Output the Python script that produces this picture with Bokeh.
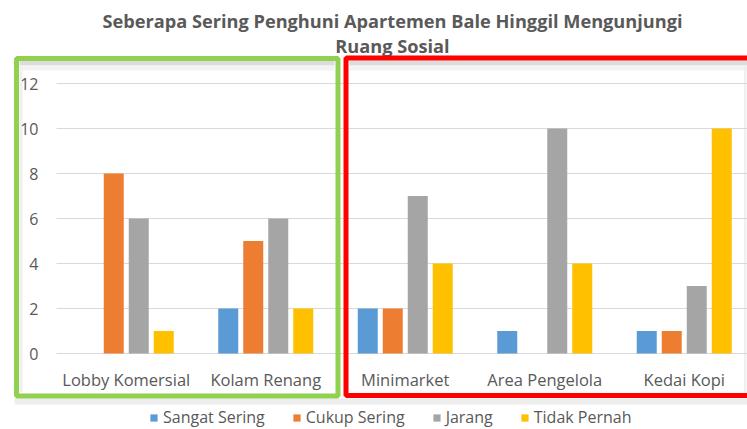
from bokeh.plotting import figure
from bokeh.models import (ColumnDataSource, Range1d, FixedTicker, Legend, LegendItem,
                          BoxAnnotation, Label, LinearAxis)
from bokeh.embed import file_html
from bokeh.resources import INLINE

# ---- data ----
categories = ["Lobby Komersial", "Kolam Renang", "Minimarket", "Area Pengelola", "Kedai Kopi"]
series_names = ["Sangat Sering", "Cukup Sering", "Jarang", "Tidak Pernah"]
sangat_sering = [0, 2, 2, 1, 1]
cukup_sering = [8, 5, 2, 0, 1]
jarang = [6, 6, 7, 10, 3]
tidak_pernah = [1, 2, 4, 4, 10]
y_ticks = [0, 2, 4, 6, 8, 10, 12]
title_line1 = "Seberapa Sering Penghuni Apartemen Bale Hinggil Mengunjungi"
title_line2 = "Ruang Sosial"

colors = ["#5B9BD5", "#ED7D31", "#A5A5A5", "#FFC000"]
values = [sangat_sering, cukup_sering, jarang, tidak_pernah]

# ---- layout (pixels in the picture) ----
W, H = 747, 429
OFF = 0
AX_X0 = 56               # x of category axis start
CAT_PX = 139.5           # width of one category in px
AX_Y0 = 353              # y of value 0
PX_PER_UNIT = 22.5       # px per value unit


def px_to_x(px):
    return (px - AX_X0) / CAT_PX


def px_to_y(py):
    return (AX_Y0 - py) / PX_PER_UNIT


FONT = "Open Sans"
GREY = "#595959"

p = figure(width=W, height=H, output_backend="svg", toolbar_location=None,
           x_range=Range1d(px_to_x(OFF), px_to_x(OFF + W)),
           y_range=Range1d(px_to_y(OFF + H), px_to_y(OFF)),
           x_axis_location=None, y_axis_location=None,
           min_border=0, min_border_left=0, min_border_right=0,
           min_border_top=0, min_border_bottom=0)
p.outline_line_color = None
p.background_fill_color = "white"
p.border_fill_color = "white"
p.xgrid.visible = False
p.ygrid.visible = False

n = len(categories)
x_end = px_to_x(OFF + W)

# shadows of the pasted chart (decorative)
shadow_cfg = [
    (px_to_x(19), px_to_x(334), px_to_y(60.5), px_to_y(65), "#DCDCDC"),
    (px_to_x(19), px_to_x(334), px_to_y(65), px_to_y(70), "#F3F3F3"),
    (px_to_x(349), px_to_x(760), px_to_y(60), px_to_y(65), "#DCDCDC"),
    (px_to_x(349), px_to_x(760), px_to_y(65), px_to_y(70), "#F3F3F3"),
    (px_to_x(14), px_to_x(760), px_to_y(398), px_to_y(404), "#EEEEEE"),
    (px_to_x(19), px_to_x(22), px_to_y(65), px_to_y(392), "#F0F0F0"),
    (px_to_x(743.5), px_to_x(746), px_to_y(65), px_to_y(392), "#F0F0F0"),
]
for l, r, t, b, c in shadow_cfg:
    p.add_layout(BoxAnnotation(left=l, right=r, top=t, bottom=b, fill_color=c, fill_alpha=1,
                               line_color=None, level="underlay"))

# gridlines
p.segment(x0=[0] * len(y_ticks), x1=[x_end] * len(y_ticks), y0=y_ticks, y1=y_ticks,
          line_color="#D9D9D9", line_width=1)

step = 25.0 / CAT_PX
bar_w = 20.0 / CAT_PX
renderers = []
for k, (name, vals, col) in enumerate(zip(series_names, values, colors)):
    xs = [i + 0.5 + (k - 1.5) * step for i in range(n)]
    src = ColumnDataSource(dict(x=xs, top=vals))
    r = p.vbar(x="x", top="top", bottom=0, width=bar_w, source=src,
               fill_color=col, line_color=None)
    renderers.append(r)

# axes at fixed locations
xaxis = LinearAxis(fixed_location=0,
                   ticker=FixedTicker(ticks=[i + 0.5 for i in range(n)]),
                   major_label_overrides={i + 0.5: c for i, c in enumerate(categories)},
                   axis_line_color=None, major_tick_line_color=None, minor_tick_line_color=None,
                   major_tick_out=0, major_tick_in=0, major_label_standoff=14,
                   major_label_text_font=FONT, major_label_text_font_size="16.5px",
                   major_label_text_color=GREY)
yaxis = LinearAxis(fixed_location=0, ticker=FixedTicker(ticks=y_ticks),
                   axis_line_color=None, major_tick_line_color=None, minor_tick_line_color=None,
                   major_tick_out=0, major_tick_in=0, major_label_standoff=18,
                   major_label_text_font=FONT, major_label_text_font_size="16px",
                   major_label_text_color=GREY)
p.add_layout(xaxis, "below")
p.add_layout(yaxis, "left")

# title
for txt, py in [(title_line1, 20), (title_line2, 45)]:
    p.add_layout(Label(x=px_to_x(392), y=px_to_y(py), text=txt, text_align="center",
                       text_baseline="middle", text_font=FONT, text_font_size="18.2px",
                       text_font_style="bold", text_color=GREY))

# highlight frames
p.add_layout(BoxAnnotation(left=px_to_x(16), right=px_to_x(337.5), top=px_to_y(58), bottom=px_to_y(395.5),
                           fill_alpha=0, line_color="#92D050", line_alpha=1, line_width=5))
p.add_layout(BoxAnnotation(left=px_to_x(345.5), right=px_to_x(770), top=px_to_y(57.5), bottom=px_to_y(395),
                           fill_alpha=0, line_color="#FF0000", line_alpha=1, line_width=5))

# legend
legend = Legend(items=[LegendItem(label=nm, renderers=[r]) for nm, r in zip(series_names, renderers)],
                orientation="horizontal", location=(149, 1),
                label_text_font=FONT, label_text_font_size="16px", label_text_color=GREY,
                glyph_width=9, glyph_height=9, spacing=27, label_standoff=5,
                label_height=16, border_line_color=None, background_fill_alpha=0,
                padding=0, margin=0)
p.add_layout(legend)

open("out.html", "w").write(file_html(p, INLINE))
